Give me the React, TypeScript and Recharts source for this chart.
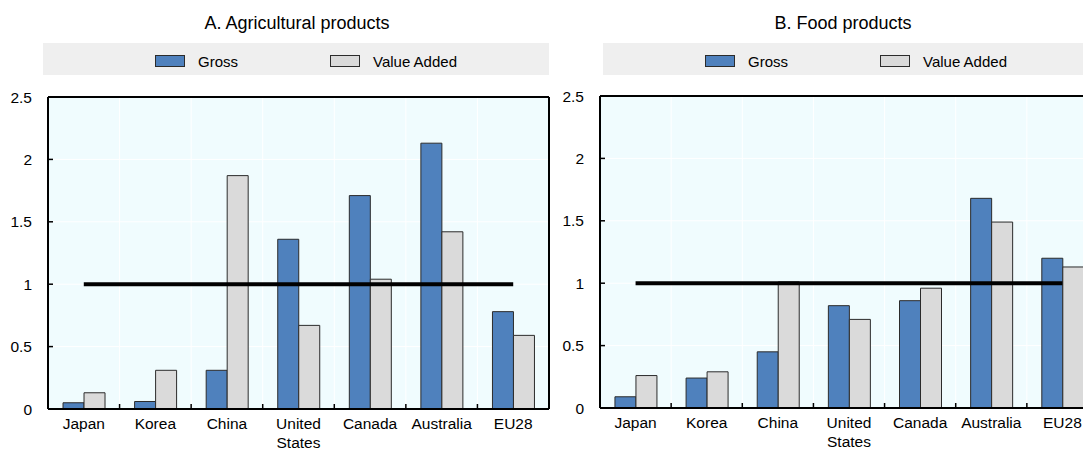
import { ComposedChart, Bar, Line, XAxis, YAxis, CartesianGrid, Text } from 'recharts';

const categories = ['Japan', 'Korea', 'China', 'United States', 'Canada', 'Australia', 'EU28'];
const agriGross = [0.05, 0.06, 0.31, 1.36, 1.71, 2.13, 0.78];
const agriValueAdded = [0.13, 0.31, 1.87, 0.67, 1.04, 1.42, 0.59];
const foodGross = [0.09, 0.24, 0.45, 0.82, 0.86, 1.68, 1.2];
const foodValueAdded = [0.26, 0.29, 1.01, 0.71, 0.96, 1.49, 1.13];
const benchmark = 1;
const yTicks = [0, 0.5, 1, 1.5, 2, 2.5];
const seriesNames = ['Gross', 'Value Added'];

const FONT = "'Liberation Sans', Arial, sans-serif";
const BLUE = '#4F81BD';
const GREY = '#DADADA';
const EDGE = '#2B2B2B';
const PLOT_BG = '#F0FCFE';
const CHART_W = 560;
const CHART_H = 453;

// x tick: label (wraps long names) plus a short inward tick at the category boundary
function CategoryTick(props: any) {
  const { x, y, payload, index, band } = props;
  const last = index >= categories.length - 1;
  return (
    <g>
      {!last && (
        <line x1={x + band / 2} x2={x + band / 2} y1={y} y2={y - 5} stroke="#000" strokeWidth={1.5} />
      )}
      <Text
        x={x}
        y={y + 9}
        width={band - 6}
        textAnchor="middle"
        verticalAnchor="start"
        lineHeight="1.25em"
        fontSize={15.5}
        fontFamily={FONT}
        fill="#000"
      >
        {payload.value}
      </Text>
    </g>
  );
}

function LegendBox({ left, width, start }: { left: number; width: number; start: number }) {
  const swatches = [BLUE, GREY];
  return (
    <div
      style={{
        position: 'absolute',
        left,
        top: 43,
        width,
        height: 32,
        background: '#EFEFEF',
      }}
    >
      <div
        style={{
          position: 'absolute',
          left: start,
          top: 9,
          display: 'flex',
          alignItems: 'center',
          fontFamily: FONT,
          fontSize: 15,
          color: '#000',
        }}
      >
        {seriesNames.map((name, i) => (
          <div key={name} style={{ display: 'flex', alignItems: 'center', marginRight: 92 }}>
            <span
              style={{
                display: 'inline-block',
                width: 28,
                height: 10,
                background: swatches[i],
                border: `1px solid ${EDGE}`,
                marginRight: 13,
              }}
            />
            <span style={{ lineHeight: '16px', paddingTop: 2 }}>{name}</span>
          </div>
        ))}
      </div>
    </div>
  );
}

interface PanelProps {
  title: string;
  gross: number[];
  valueAdded: number[];
  left: number;
  marginTop: number;
  marginRight: number;
  marginBottom: number;
  titleCenter: number;
  legendLeft: number;
  legendWidth: number;
  legendStart: number;
}

function Panel({
  title,
  gross,
  valueAdded,
  left,
  marginTop,
  marginRight,
  marginBottom,
  titleCenter,
  legendLeft,
  legendWidth,
  legendStart,
}: PanelProps) {
  const data = categories.map((name, i) => ({
    name,
    gross: gross[i],
    valueAdded: valueAdded[i],
    benchmark,
  }));
  const plotW = CHART_W - 8 - 40 - marginRight - 1;
  const band = plotW / categories.length;

  return (
    <div style={{ position: 'absolute', left, top: 0, width: CHART_W, height: CHART_H }}>
      <div
        style={{
          position: 'absolute',
          left: titleCenter - 150,
          width: 300,
          top: 12,
          height: 22,
          lineHeight: '22px',
          textAlign: 'center',
          fontFamily: FONT,
          fontSize: 18,
          color: '#000',
        }}
      >
        {title}
      </div>
      <LegendBox left={legendLeft} width={legendWidth} start={legendStart} />
      <ComposedChart
        width={CHART_W}
        height={CHART_H}
        data={data}
        margin={{ top: marginTop, right: marginRight, bottom: marginBottom, left: 8 }}
        barGap={0}
        barCategoryGap="21%"
      >
        <CartesianGrid
          fill={PLOT_BG}
          stroke="#FFFFFF"
          strokeWidth={1}
          verticalCoordinatesGenerator={({ offset }: any) =>
            categories.map((_, i) => offset.left + (i * offset.width) / categories.length)
          }
        />
        <XAxis
          dataKey="name"
          interval={0}
          height={40}
          tickSize={0}
          tickMargin={0}
          tickLine={false}
          axisLine={{ stroke: '#000', strokeWidth: 2 }}
          tick={(p: any) => <CategoryTick {...p} band={band} />}
        />
        <XAxis
          xAxisId="top"
          dataKey="name"
          orientation="top"
          height={1}
          tick={false}
          tickLine={false}
          axisLine={{ stroke: '#000', strokeWidth: 2 }}
        />
        <YAxis
          domain={[0, 2.5]}
          ticks={yTicks}
          width={40}
          tickSize={-5}
          tickMargin={21}
          axisLine={{ stroke: '#000', strokeWidth: 2 }}
          tickLine={{ stroke: '#000', strokeWidth: 1.5 }}
          tick={{ fill: '#000', fontSize: 15.5, fontFamily: FONT }}
        />
        <YAxis
          yAxisId="right"
          orientation="right"
          domain={[0, 2.5]}
          width={1}
          tick={false}
          tickLine={false}
          axisLine={{ stroke: '#000', strokeWidth: 2 }}
        />
        <Bar dataKey="gross" name="Gross" fill={BLUE} stroke={EDGE} strokeWidth={1} isAnimationActive={false} />
        <Bar
          dataKey="valueAdded"
          name="Value Added"
          fill={GREY}
          stroke={EDGE}
          strokeWidth={1}
          isAnimationActive={false}
        />
        <Line
          dataKey="benchmark"
          type="linear"
          stroke="#000"
          strokeWidth={4}
          dot={false}
          activeDot={false}
          legendType="none"
          isAnimationActive={false}
        />
      </ComposedChart>
    </div>
  );
}

export default function App() {
  return (
    <div
      style={{
        position: 'fixed',
        left: 0,
        top: 0,
        width: 1083,
        height: 453,
        overflow: 'hidden',
        background: '#fff',
      }}
    >
      <Panel
        title="A. Agricultural products"
        gross={agriGross}
        valueAdded={agriValueAdded}
        left={0}
        marginTop={96}
        marginRight={10}
        marginBottom={4}
        titleCenter={297}
        legendLeft={43}
        legendWidth={506}
        legendStart={112}
      />
      <Panel
        title="B. Food products"
        gross={foodGross}
        valueAdded={foodValueAdded}
        left={552}
        marginTop={95}
        marginRight={13}
        marginBottom={5}
        titleCenter={291}
        legendLeft={51}
        legendWidth={509}
        legendStart={102}
      />
    </div>
  );
}
